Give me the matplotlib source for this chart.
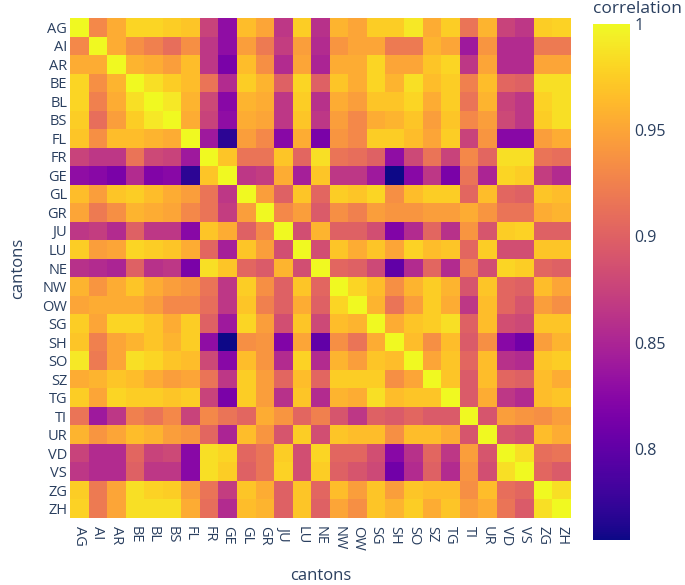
import matplotlib
matplotlib.use("Agg")
import matplotlib.pyplot as plt
import numpy as np

cantons = ["AG", "AI", "AR", "BE", "BL", "BS", "FL", "FR", "GE", "GL", "GR", "JU", "LU", "NE",
           "NW", "OW", "SG", "SH", "SO", "SZ", "TG", "TI", "UR", "VD", "VS", "ZG", "ZH"]

r_AG = [1.0, 0.93, 0.955, 0.98, 0.98, 0.975, 0.97, 0.875, 0.83, 0.965, 0.95, 0.865, 0.975, 0.86, 0.96, 0.95, 0.975, 0.975, 0.99, 0.955, 0.975, 0.915, 0.96, 0.875, 0.865, 0.975, 0.978]
r_AI = [0.93, 1.0, 0.955, 0.935, 0.925, 0.91, 0.935, 0.865, 0.83, 0.945, 0.92, 0.87, 0.945, 0.855, 0.94, 0.95, 0.95, 0.92, 0.92, 0.96, 0.95, 0.84, 0.94, 0.855, 0.855, 0.92, 0.92]
r_AR = [0.955, 0.955, 1.0, 0.96, 0.955, 0.945, 0.965, 0.865, 0.815, 0.965, 0.935, 0.855, 0.95, 0.85, 0.955, 0.955, 0.98, 0.95, 0.95, 0.97, 0.98, 0.865, 0.95, 0.855, 0.855, 0.95, 0.95]
r_BE = [0.98, 0.935, 0.96, 1.0, 0.985, 0.975, 0.965, 0.915, 0.855, 0.975, 0.96, 0.9, 0.98, 0.9, 0.97, 0.955, 0.98, 0.96, 0.985, 0.965, 0.975, 0.925, 0.965, 0.905, 0.9, 0.985, 0.985]
r_BL = [0.98, 0.925, 0.955, 0.985, 1.0, 0.99, 0.96, 0.88, 0.825, 0.96, 0.955, 0.865, 0.975, 0.86, 0.955, 0.945, 0.97, 0.97, 0.98, 0.955, 0.975, 0.915, 0.96, 0.875, 0.865, 0.978, 0.985]
r_BS = [0.975, 0.91, 0.945, 0.975, 0.99, 1.0, 0.955, 0.875, 0.83, 0.955, 0.95, 0.865, 0.97, 0.865, 0.945, 0.93, 0.955, 0.96, 0.97, 0.945, 0.97, 0.93, 0.945, 0.88, 0.865, 0.975, 0.985]
r_FL = [0.97, 0.935, 0.965, 0.965, 0.96, 0.955, 1.0, 0.84, 0.77, 0.945, 0.93, 0.825, 0.955, 0.815, 0.94, 0.93, 0.975, 0.975, 0.965, 0.95, 0.975, 0.875, 0.94, 0.825, 0.825, 0.945, 0.955]
r_FR = [0.875, 0.865, 0.865, 0.915, 0.88, 0.875, 0.84, 1.0, 0.97, 0.915, 0.915, 0.97, 0.905, 0.985, 0.915, 0.91, 0.9, 0.83, 0.88, 0.915, 0.875, 0.93, 0.905, 0.985, 0.985, 0.915, 0.91]
r_GE = [0.83, 0.825, 0.815, 0.855, 0.82, 0.825, 0.77, 0.97, 1.0, 0.865, 0.87, 0.955, 0.845, 0.97, 0.865, 0.865, 0.84, 0.757, 0.825, 0.865, 0.815, 0.915, 0.85, 0.98, 0.975, 0.87, 0.855]
r_GL = [0.965, 0.945, 0.97, 0.975, 0.965, 0.955, 0.945, 0.915, 0.865, 1.0, 0.945, 0.9, 0.97, 0.905, 0.975, 0.97, 0.98, 0.935, 0.965, 0.975, 0.975, 0.905, 0.965, 0.905, 0.9, 0.97, 0.965]
r_GR = [0.95, 0.92, 0.935, 0.96, 0.955, 0.95, 0.93, 0.915, 0.87, 0.945, 1.0, 0.93, 0.945, 0.895, 0.935, 0.925, 0.945, 0.94, 0.94, 0.945, 0.945, 0.955, 0.94, 0.915, 0.915, 0.955, 0.96]
r_JU = [0.865, 0.87, 0.855, 0.9, 0.865, 0.865, 0.825, 0.97, 0.955, 0.9, 0.93, 1.0, 0.885, 0.96, 0.9, 0.9, 0.885, 0.82, 0.855, 0.905, 0.86, 0.94, 0.89, 0.975, 0.978, 0.9, 0.9]
r_LU = [0.975, 0.945, 0.95, 0.98, 0.975, 0.97, 0.955, 0.905, 0.845, 0.97, 0.945, 0.885, 1.0, 0.885, 0.97, 0.955, 0.97, 0.95, 0.978, 0.965, 0.97, 0.905, 0.975, 0.885, 0.885, 0.97, 0.97]
r_NE = [0.86, 0.855, 0.85, 0.9, 0.86, 0.865, 0.815, 0.985, 0.97, 0.905, 0.895, 0.96, 0.885, 1.0, 0.905, 0.9, 0.88, 0.80, 0.855, 0.905, 0.855, 0.925, 0.885, 0.98, 0.975, 0.905, 0.9]
r_NW = [0.96, 0.94, 0.955, 0.97, 0.955, 0.945, 0.94, 0.915, 0.865, 0.975, 0.935, 0.9, 0.97, 0.905, 1.0, 0.98, 0.965, 0.935, 0.96, 0.975, 0.96, 0.89, 0.97, 0.905, 0.9, 0.965, 0.95]
r_OW = [0.95, 0.955, 0.955, 0.955, 0.945, 0.93, 0.93, 0.91, 0.865, 0.97, 0.925, 0.9, 0.955, 0.9, 0.98, 1.0, 0.96, 0.915, 0.945, 0.975, 0.955, 0.865, 0.965, 0.905, 0.89, 0.945, 0.935]
r_SG = [0.975, 0.95, 0.98, 0.98, 0.97, 0.955, 0.975, 0.9, 0.84, 0.98, 0.945, 0.885, 0.97, 0.88, 0.965, 0.96, 1.0, 0.955, 0.97, 0.975, 0.985, 0.9, 0.965, 0.885, 0.88, 0.97, 0.97]
r_SH = [0.97, 0.925, 0.95, 0.96, 0.97, 0.96, 0.975, 0.83, 0.757, 0.935, 0.94, 0.82, 0.95, 0.80, 0.935, 0.915, 0.955, 1.0, 0.965, 0.935, 0.965, 0.895, 0.935, 0.825, 0.81, 0.945, 0.96]
r_SO = [0.99, 0.92, 0.95, 0.985, 0.98, 0.97, 0.965, 0.88, 0.825, 0.965, 0.94, 0.855, 0.978, 0.855, 0.96, 0.945, 0.97, 0.965, 1.0, 0.95, 0.97, 0.905, 0.965, 0.86, 0.855, 0.97, 0.975]
r_SZ = [0.955, 0.96, 0.97, 0.965, 0.955, 0.945, 0.95, 0.915, 0.865, 0.975, 0.945, 0.905, 0.965, 0.905, 0.975, 0.975, 0.975, 0.935, 0.95, 1.0, 0.97, 0.895, 0.965, 0.905, 0.9, 0.965, 0.955]
r_TG = [0.975, 0.95, 0.98, 0.975, 0.975, 0.97, 0.975, 0.875, 0.815, 0.975, 0.945, 0.86, 0.97, 0.855, 0.96, 0.955, 0.985, 0.965, 0.97, 0.97, 1.0, 0.895, 0.955, 0.865, 0.855, 0.965, 0.97]
r_TI = [0.915, 0.84, 0.865, 0.925, 0.915, 0.93, 0.875, 0.93, 0.915, 0.905, 0.955, 0.94, 0.905, 0.925, 0.89, 0.865, 0.9, 0.895, 0.905, 0.895, 0.895, 1.0, 0.89, 0.945, 0.94, 0.935, 0.945]
r_UR = [0.96, 0.94, 0.95, 0.965, 0.96, 0.945, 0.94, 0.905, 0.85, 0.965, 0.94, 0.89, 0.975, 0.885, 0.97, 0.965, 0.965, 0.935, 0.965, 0.965, 0.955, 0.89, 1.0, 0.89, 0.885, 0.965, 0.955]
r_VD = [0.875, 0.855, 0.855, 0.905, 0.875, 0.88, 0.825, 0.985, 0.98, 0.905, 0.915, 0.975, 0.885, 0.98, 0.905, 0.905, 0.885, 0.825, 0.86, 0.905, 0.865, 0.945, 0.89, 1.0, 0.985, 0.91, 0.915]
r_VS = [0.865, 0.855, 0.855, 0.9, 0.865, 0.865, 0.825, 0.985, 0.975, 0.9, 0.915, 0.978, 0.885, 0.975, 0.9, 0.89, 0.88, 0.81, 0.855, 0.9, 0.855, 0.94, 0.885, 0.985, 1.0, 0.905, 0.895]
r_ZG = [0.975, 0.92, 0.95, 0.985, 0.978, 0.975, 0.945, 0.915, 0.87, 0.97, 0.955, 0.9, 0.97, 0.905, 0.965, 0.945, 0.97, 0.945, 0.97, 0.965, 0.965, 0.935, 0.965, 0.91, 0.905, 1.0, 0.985]
r_ZH = [0.978, 0.92, 0.95, 0.985, 0.985, 0.985, 0.955, 0.91, 0.855, 0.965, 0.96, 0.9, 0.97, 0.9, 0.95, 0.935, 0.97, 0.96, 0.975, 0.955, 0.97, 0.945, 0.955, 0.915, 0.895, 0.985, 1.0]

rows = [r_AG, r_AI, r_AR, r_BE, r_BL, r_BS, r_FL, r_FR, r_GE, r_GL, r_GR, r_JU, r_LU, r_NE,
        r_NW, r_OW, r_SG, r_SH, r_SO, r_SZ, r_TG, r_TI, r_UR, r_VD, r_VS, r_ZG, r_ZH]
cb_ticks = [0.8, 0.85, 0.9, 0.95, 1.0]
cb_ticklabels = ["0.8", "0.85", "0.9", "0.95", "1"]

Z = np.array(rows)
vmin, vmax = Z.min(), 1.0

plt.rcParams['font.family'] = ['Open Sans', 'DejaVu Sans']
txt = '#2a3f5f'
W, H = 685, 585
fig = plt.figure(figsize=(W / 100, H / 100), dpi=100)

ax = fig.add_axes([70 / W, 1 - 518 / H, 501 / W, 500 / H])
n = len(cantons)
mesh = ax.pcolormesh(np.arange(n + 1) - 0.5, np.arange(n + 1) - 0.5, Z,
                     cmap='plasma', vmin=vmin, vmax=vmax, shading='flat')
ax.set_xlim(-0.5, n - 0.5)
ax.set_ylim(n - 0.5, -0.5)
ax.set_xticks(range(n))
ax.set_xticklabels(cantons, rotation=-90, fontsize=10.5, color=txt)
ax.set_yticks(range(n))
ax.set_yticklabels(cantons, fontsize=10.5, color=txt)
ax.tick_params(axis='x', length=0, pad=6)
ax.tick_params(axis='y', length=0, pad=2)
for s in ax.spines.values():
    s.set_visible(False)
ax.set_xlabel('cantons', fontsize=12, color=txt, labelpad=12)
ax.set_ylabel('cantons', fontsize=12, color=txt, labelpad=12)

cax = fig.add_axes([593 / W, 1 - 540 / H, 37 / W, (540 - 24) / H])
cb = fig.colorbar(mesh, cax=cax)
cb.outline.set_visible(False)
cb.set_ticks(cb_ticks)
cb.set_ticklabels(cb_ticklabels)
cax.tick_params(length=0, labelsize=11.5, labelcolor=txt, pad=3)
fig.text(593 / W, 1 - 9 / H, 'correlation', fontsize=12.5, color=txt, va='center', ha='left')

fig.savefig('out.png', dpi=100)
